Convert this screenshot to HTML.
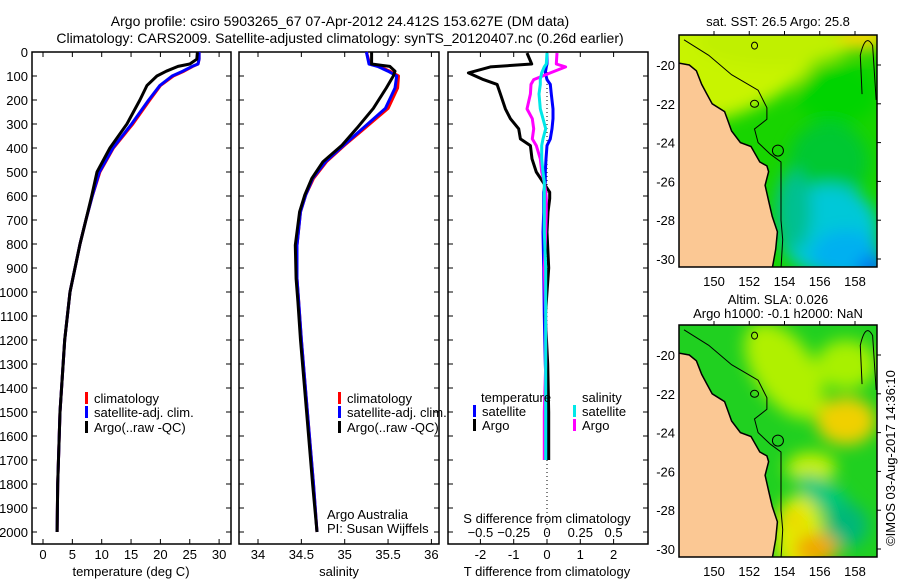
<!DOCTYPE html>
<html><head><meta charset="utf-8">
<style>
html,body{margin:0;padding:0;background:#fff;}
svg{display:block;font-family:"Liberation Sans",sans-serif;}
text{font-size:13px;fill:#000;}
</style></head>
<body>
<svg id="chart" width="900" height="580" viewBox="0 0 900 580" xmlns="http://www.w3.org/2000/svg">
<defs>
<filter id="blur" x="-50%" y="-50%" width="200%" height="200%"><feGaussianBlur stdDeviation="8"/></filter>
<clipPath id="clip1"><rect x="679" y="35" width="198" height="232"/></clipPath>
<clipPath id="clip2"><rect x="679" y="325" width="198" height="232"/></clipPath>
</defs>
<text x="340" y="26" text-anchor="middle" style="font-size:14px">Argo profile: csiro 5903265_67 07-Apr-2012 24.412S 153.627E (DM data)</text>
<text x="340" y="43" text-anchor="middle" style="font-size:14px">Climatology: CARS2009. Satellite-adjusted climatology: synTS_20120407.nc (0.26d earlier)</text>
<g id="root"></g>
</svg>
<script>
// ---- data ----
const depthTickLabels = [0,100,200,300,400,500,600,700,800,900,1000,1100,1200,1300,1400,1500,1600,1700,1800,1900,2000];
const tempTickLabels = [0,5,10,15,20,25,30];
const salTickLabels = [34,34.5,35,35.5,36];
const tDiffTickLabels = [-2,-1,0,1,2];
const sDiffTickLabels = [-0.5,-0.25,0,0.25,0.5];

const depthT = [0,30,50,60,80,100,140,200,300,400,500,600,700,800,1000,1200,1500,1800,2000];
const tempArgo = [26.3,26.2,25.0,23.0,21.0,19.4,17.7,16.5,14.3,11.4,9.2,8.3,7.3,6.3,4.6,3.7,2.9,2.5,2.4];
const tempClim = [26.6,26.6,26.4,25.5,24.0,22.2,20.0,18.2,15.3,12.0,9.7,8.4,7.3,6.3,4.6,3.7,2.9,2.5,2.4];
const tempSat  = [26.6,26.6,26.4,25.4,23.8,22.0,19.9,18.0,15.1,11.9,9.6,8.4,7.3,6.3,4.6,3.7,2.9,2.5,2.4];

const depthS = [0,50,60,80,100,150,235,318,388,457,527,596,666,805,944,1040,1200,1500,1800,2000];
const salArgo = [35.31,35.31,35.52,35.58,35.56,35.48,35.33,35.14,34.97,34.75,34.62,34.54,34.48,34.43,34.44,34.46,34.49,34.56,34.63,34.68];
const salClim = [35.25,35.29,35.40,35.52,35.62,35.61,35.50,35.23,35.00,34.79,34.64,34.55,34.49,34.45,34.45,34.47,34.50,34.57,34.64,34.68];
const salSat  = [35.25,35.28,35.38,35.50,35.60,35.58,35.47,35.21,34.99,34.78,34.63,34.55,34.49,34.45,34.45,34.47,34.50,34.57,34.64,34.68];

const depthD = [4,50,62,87,115,135,175,237,278,320,362,390,445,500,542,584,611,667,750,900,1100,1300,1500,1700];
const tDiffArgo = [-0.6,-0.46,-1.7,-2.36,-1.91,-1.5,-1.4,-1.25,-1.1,-0.85,-0.8,-0.5,-0.45,-0.32,-0.12,0.08,0.08,0.03,0,0.05,-0.05,0.02,0.05,0.05];
const tDiffSat = [0,0,-0.02,-0.05,0,0.1,0.13,0.18,0.18,0.15,0.1,0,-0.03,-0.05,-0.05,-0.1,-0.1,-0.1,-0.12,-0.1,-0.08,-0.05,0,0];
const sDiffArgo = [0.075,0.07,0.14,0.025,-0.1,-0.12,-0.125,-0.15,-0.11,-0.1,-0.11,-0.08,-0.05,-0.04,-0.02,-0.01,-0.005,-0.005,-0.01,-0.02,-0.01,-0.01,-0.02,-0.02];
const sDiffSat = [0,-0.005,-0.02,-0.04,-0.05,-0.05,-0.06,-0.05,-0.03,-0.01,-0.03,-0.04,-0.04,-0.03,-0.02,-0.02,-0.02,-0.02,-0.02,-0.01,-0.01,-0.01,-0.01,-0.01];

const lonTicks = [150,152,154,156,158];
const latTicks = [-20,-22,-24,-26,-28,-30];
const coastLon = [148,148.6,149,149.3,149.6,149.9,150.6,150.8,151,151.5,152.1,152.6,153,153.1,152.9,153.1,153.3,153.6,153.5,153.3];
const coastLat = [-19.9,-20,-20.3,-21,-21.5,-22,-22.4,-22.9,-23.4,-24,-24.2,-25,-25.2,-25.5,-26.2,-27,-27.8,-28.6,-29.5,-30.5];
const shelfLon = [148.3,149.7,151,152.5,153,153,152.3,152.5,153.2,153.8,153.8,153.8,153.9,153.8];
const shelfLat = [-18.7,-19.5,-20.5,-21.3,-22.2,-22.8,-23.3,-24,-24.6,-25,-26,-28,-29,-30.5];
const floatLon = 153.627, floatLat = -24.412;

// ---- helpers ----
const NS = "http://www.w3.org/2000/svg";
const root = document.getElementById('root');
function mk(tag, attrs, name, parent) {
  const el = document.createElementNS(NS, tag);
  for (const k in attrs) el.setAttribute(k, attrs[k]);
  
  
  (parent || root).appendChild(el);
  return el;
}
function txt(x, y, s, name, anchor, extra) {
  const t = mk('text', Object.assign({x: x, y: y, 'text-anchor': anchor || 'start'}, extra || {}), name);
  t.textContent = s;
  return t;
}
const yD = d => 52 + d * 0.24;
const pTop = 52, pBot = 544;

function panel(x0, x1, name) {
  mk('rect', {x: x0, y: pTop, width: x1 - x0, height: pBot - pTop, fill: 'none', stroke: '#000', 'stroke-width': 1.5}, name + '-frame');
  depthTickLabels.forEach(d => {
    mk('line', {x1: x0, x2: x0 + 5, y1: yD(d), y2: yD(d), stroke: '#000'}, name + '-ytick');
    mk('line', {x1: x1, x2: x1 - 5, y1: yD(d), y2: yD(d), stroke: '#000'}, name + '-ytick-right');
  });
}
function xTicks(vals, fx, name, yLab) {
  vals.forEach(v => {
    const x = fx(v);
    mk('line', {x1: x, x2: x, y1: pBot, y2: pBot - 5, stroke: '#000'}, name + '-tick');
    mk('line', {x1: x, x2: x, y1: pTop, y2: pTop + 5, stroke: '#000'}, name + '-tick-top');
    if (yLab) txt(x, yLab, String(v), name + '-label', 'middle');
  });
}
function line(xs, ds, fx, color, name, w) {
  const pts = xs.map((v, i) => fx(v).toFixed(1) + ',' + yD(ds[i]).toFixed(1)).join(' ');
  mk('polyline', {points: pts, fill: 'none', stroke: color, 'stroke-width': w || 3, 'stroke-linejoin': 'round'}, name);
}
function legend(x, y, color, label, name) {
  mk('rect', {x: x, y: y - 11, width: 3, height: 12, fill: color}, name + '-swatch');
  txt(x + 9, y, label, name + '-label');
}

// ---- panel 1: temperature ----
const fT = v => 43 + v * 5.87;
panel(32, 231, 'temperature-panel');
depthTickLabels.forEach(d => txt(28, yD(d) + 5, String(d), 'depth-tick-label', 'end'));
xTicks(tempTickLabels, fT, 'temperature-axis', 559);
txt(131, 576, 'temperature (deg C)', 'temperature-axis-title', 'middle');
line(tempClim, depthT, fT, '#ff0000', 'temperature-climatology-line');
line(tempSat, depthT, fT, '#0000ff', 'temperature-satellite-line');
line(tempArgo, depthT, fT, '#000000', 'temperature-argo-line');
legend(85, 403, '#ff0000', 'climatology', 'temp-legend-climatology');
legend(85, 417, '#0000ff', 'satellite-adj. clim.', 'temp-legend-satellite');
legend(85, 432, '#000000', 'Argo(..raw -QC)', 'temp-legend-argo');

// ---- panel 2: salinity ----
const fS = v => 258 + (v - 34) * 86.7;
panel(239, 439, 'salinity-panel');
xTicks(salTickLabels, fS, 'salinity-axis', 559);
txt(339, 576, 'salinity', 'salinity-axis-title', 'middle');
line(salClim, depthS, fS, '#ff0000', 'salinity-climatology-line');
line(salSat, depthS, fS, '#0000ff', 'salinity-satellite-line');
line(salArgo, depthS, fS, '#000000', 'salinity-argo-line');
legend(338, 403, '#ff0000', 'climatology', 'sal-legend-climatology');
legend(338, 417, '#0000ff', 'satellite-adj. clim.', 'sal-legend-satellite');
legend(338, 432, '#000000', 'Argo(..raw -QC)', 'sal-legend-argo');
txt(327, 519, 'Argo Australia', 'credit-argo-australia');
txt(327, 533, 'PI: Susan Wijffels', 'credit-pi');

// ---- panel 3: differences ----
const fDT = v => 547 + v * 33.3;
const fDS = v => 547 + v * 133.2;
panel(448, 648, 'difference-panel');
xTicks(tDiffTickLabels, fDT, 'tdiff-axis', 559);
sDiffTickLabels.forEach(v => txt(fDS(v), 537, v === 0 ? '0' : (v < 0 ? '\u2212' + Math.abs(v) : String(v)), 'sdiff-tick-label', 'middle'));
txt(547, 523, 'S difference from climatology', 'sdiff-axis-title', 'middle');
txt(547, 576, 'T difference from climatology', 'tdiff-axis-title', 'middle');
mk('line', {x1: 547, x2: 547, y1: pTop, y2: pBot, stroke: '#000', 'stroke-dasharray': '1,3'}, 'zero-reference-line');
line(tDiffSat, depthD, fDT, '#0000ff', 'tdiff-satellite-line');
line(tDiffArgo, depthD, fDT, '#000000', 'tdiff-argo-line');
line(sDiffArgo, depthD, fDS, '#ff00ff', 'sdiff-argo-line');
line(sDiffSat, depthD, fDS, '#00e8e8', 'sdiff-satellite-line');
txt(481, 402, 'temperature', 'legend-temperature-heading');
txt(582, 402, 'salinity', 'legend-salinity-heading');
legend(473, 416, '#0000ff', 'satellite', 'diff-legend-t-satellite');
legend(473, 430, '#000000', 'Argo', 'diff-legend-t-argo');
legend(573, 416, '#00e8e8', 'satellite', 'diff-legend-s-satellite');
legend(573, 430, '#ff00ff', 'Argo', 'diff-legend-s-argo');

// ---- maps ----
const mx = lon => 714 + (lon - 150) * 17.625;
function drawMap(y0, clipId, blobs, base, name) {
  const my = lat => y0 + 30 + (-20 - lat) * 19.4;
  const g = mk('g', {'clip-path': 'url(#' + clipId + ')'}, name + '-field');
  mk('rect', {x: 679, y: y0, width: 198, height: 232, fill: base}, name + '-background', g);
  const bg = mk('g', {filter: 'url(#blur)'}, name + '-anomaly-blobs', g);
  blobs.forEach(b => mk('ellipse', {cx: mx(b[0]), cy: my(b[1]), rx: b[2], ry: b[3], fill: b[4], transform: 'rotate(' + (b[5] || 0) + ' ' + mx(b[0]) + ' ' + my(b[1]) + ')'}, name + '-blob', bg));
  const cpts = coastLon.map((v, i) => mx(v).toFixed(1) + ',' + my(coastLat[i]).toFixed(1));
  mk('polygon', {points: cpts.join(' ') + ' 679,' + my(-30.6) + ' 679,' + my(-19.9), fill: '#fbc894'}, name + '-land', g);
  mk('polyline', {points: cpts.join(' '), fill: 'none', stroke: '#000', 'stroke-width': 1.5}, name + '-coastline', g);
  const spts = shelfLon.map((v, i) => mx(v).toFixed(1) + ',' + my(shelfLat[i]).toFixed(1)).join(' ');
  mk('polyline', {points: spts, fill: 'none', stroke: '#000', 'stroke-width': 1}, name + '-shelf-contour', g);
  mk('path', {d: 'M' + mx(158.4) + ' ' + my(-21.5) + ' L' + mx(158.3) + ' ' + my(-19.5) + ' Q' + mx(158.6) + ' ' + my(-18.3) + ' ' + mx(159) + ' ' + my(-19) + ' L' + mx(159.2) + ' ' + my(-21.8), fill: 'none', stroke: '#000', 'stroke-width': 1}, name + '-seamount-contour', g);
  mk('ellipse', {cx: mx(152.3), cy: my(-19), rx: 3, ry: 3.5, fill: 'none', stroke: '#000'}, name + '-reef-contour', g);
  mk('ellipse', {cx: mx(152.3), cy: my(-22), rx: 4, ry: 3.5, fill: 'none', stroke: '#000'}, name + '-reef-contour', g);
  mk('circle', {cx: mx(floatLon), cy: my(floatLat), r: 5.5, fill: 'none', stroke: '#000', 'stroke-width': 1}, name + '-float-location', g);
  mk('rect', {x: 679, y: y0, width: 198, height: 232, fill: 'none', stroke: '#000', 'stroke-width': 1.5}, name + '-frame');
  lonTicks.forEach(l => {
    mk('line', {x1: mx(l), x2: mx(l), y1: y0, y2: y0 - 4, stroke: '#000'}, name + '-lon-tick');
    txt(mx(l), y0 + 251, String(l), name + '-lon-label', 'middle');
  });
  latTicks.forEach(l => {
    mk('line', {x1: 877, x2: 881, y1: my(l), y2: my(l), stroke: '#000'}, name + '-lat-tick');
    txt(675, my(l) + 5, '-' + Math.abs(l), name + '-lat-label', 'end');
  });
}
drawMap(35, 'clip1', [
  [150.5, -19.8, 110, 55, '#c8f400', -20],
  [153.5, -18.8, 80, 25, '#c0f000'],
  [158.5, -18.5, 25, 15, '#f0d800'],
  [157, -21.5, 40, 30, '#00d400'],
  [156.5, -25, 40, 40, '#00c830'],
  [156.5, -28.5, 50, 45, '#00c8d8'],
  [157.5, -29.8, 35, 25, '#00b0f0'],
  [159, -30.5, 15, 12, '#0070f0'],
  [154.5, -27.5, 18, 40, '#00c090']
], '#18d400', 'sst-map');
drawMap(325, 'clip2', [
  [154, -20.8, 30, 55, '#b0f000', -35],
  [157.5, -20.5, 30, 25, '#a8f000'],
  [157.5, -23.4, 30, 24, '#f0d000'],
  [155.5, -25.8, 25, 15, '#c8f000'],
  [156.3, -27.3, 32, 14, '#00c880', 35],
  [157.5, -28.8, 22, 22, '#00b878'],
  [154.8, -29.3, 25, 40, '#e0f000'],
  [155.8, -30, 22, 16, '#f0a800'],
  [154.5, -28.5, 10, 10, '#f0d000']
], '#20d020', 'sla-map');
txt(778, 26, 'sat. SST: 26.5 Argo: 25.8', 'sst-map-title', 'middle');
txt(778, 304, 'Altim. SLA: 0.026', 'sla-map-title-1', 'middle');
txt(778, 318, 'Argo h1000: -0.1 h2000: NaN', 'sla-map-title-2', 'middle');
txt(0, 0, '\u00a9IMOS 03-Aug-2017 14:36:10', 'timestamp-credit', 'middle', {transform: 'translate(895,458) rotate(-90)'});
</script>
</body></html>
